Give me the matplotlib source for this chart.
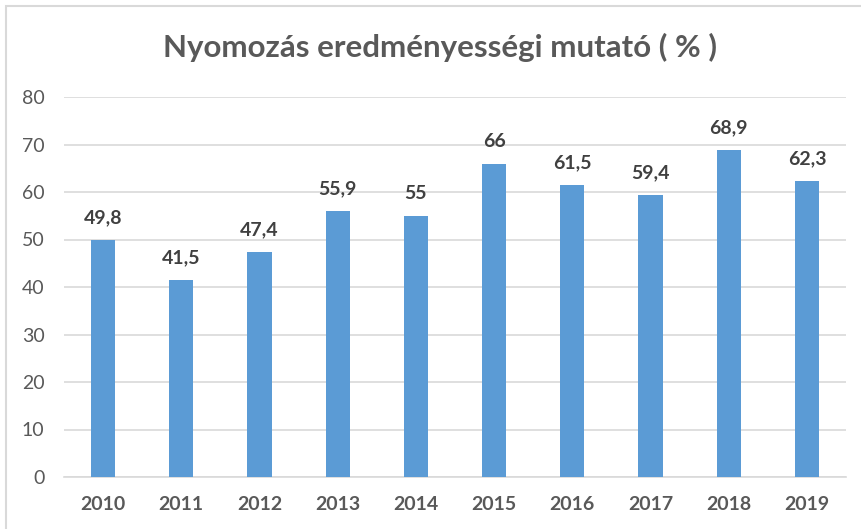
import matplotlib
matplotlib.use('Agg')
import matplotlib.pyplot as plt
from matplotlib.patches import Rectangle

plt.rcParams['font.family'] = ['Lato', 'DejaVu Sans']

years = ['2010', '2011', '2012', '2013', '2014', '2015', '2016', '2017', '2018', '2019']
values = [49.8, 41.5, 47.4, 55.9, 55, 66, 61.5, 59.4, 68.9, 62.3]
labels = ['49,8', '41,5', '47,4', '55,9', '55', '66', '61,5', '59,4', '68,9', '62,3']
title = 'Nyomozás eredményességi mutató ( % )'

fig = plt.figure(figsize=(8.62, 5.29), dpi=100)
# chart border (light grey, right/bottom cut off like in the screenshot)
fig.patches.append(Rectangle((6/862, -0.1), 1.2, 1 - 6/529 + 0.1, transform=fig.transFigure,
                             fill=False, edgecolor='#d9d9d9', linewidth=1.5))

ax = fig.add_axes([64/862, 1 - 477/529, 782/862, 380/529])
x = range(len(years))
bars = ax.bar(x, values, width=0.31, color='#5b9bd5', zorder=3)

for xi, v, lab in zip(x, values, labels):
    ax.annotate(lab, xy=(xi, v), xytext=(0, 10), textcoords='offset points',
                ha='center', va='bottom', fontsize=14, fontweight='bold', color='#404040')

ax.set_xlim(-0.5, len(years) - 0.5)
ax.set_ylim(0, 80)
ax.set_yticks(range(0, 81, 10))
ax.set_xticks(list(x))
ax.set_xticklabels(years, fontweight='bold')
ax.tick_params(axis='y', length=0, pad=14, labelsize=14, labelcolor='#595959')
ax.tick_params(axis='x', length=0, pad=14, labelsize=14, labelcolor='#595959')
ax.grid(axis='y', color='#d9d9d9', linewidth=1.2, zorder=0)
for s in ['top', 'right', 'left']:
    ax.spines[s].set_visible(False)
ax.spines['bottom'].set_color('#d9d9d9')
ax.spines['bottom'].set_linewidth(1.2)

fig.text(0.51, 1 - 47/529, title, ha='center', va='center', fontsize=22.5,
         fontweight='bold', color='#595959')

fig.savefig('out.png', dpi=100)
